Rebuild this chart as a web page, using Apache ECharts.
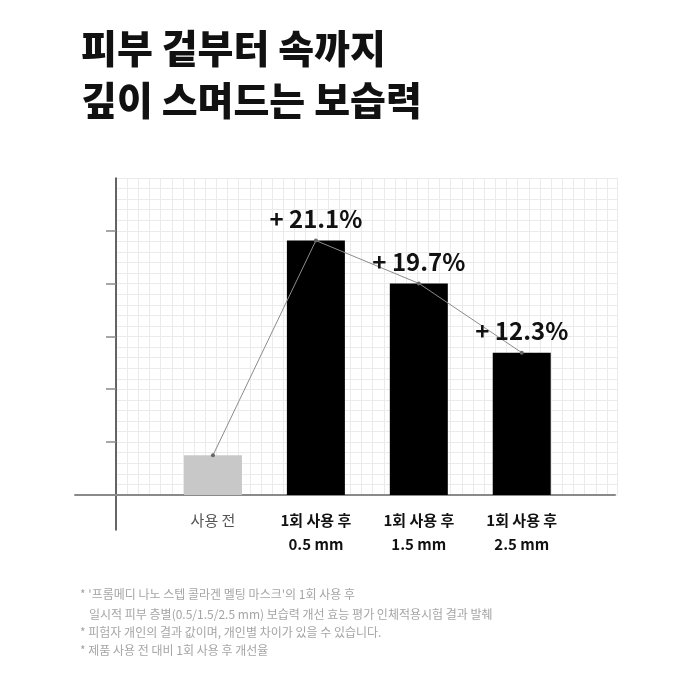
<!DOCTYPE html>
<html>
<head>
<meta charset="utf-8">
<script src="https://cdn.jsdelivr.net/npm/echarts@6/dist/echarts.min.js"></script>
<style>
  html, body { margin: 0; padding: 0; background: #fff; }
  #chart { width: 700px; height: 700px; }
</style>
</head>
<body>
<div id="chart"></div>
<script>
const FONT = '"Noto Sans CJK KR", "Noto Sans", sans-serif';

const categories = ['사용 전', '1회 사용 후\n0.5 mm', '1회 사용 후\n1.5 mm', '1회 사용 후\n2.5 mm'];
const moisture = [7.5, 48.1, 40.0, 26.9];
const improvement = [null, 21.1, 19.7, 12.3];
const barColors = ['#c8c8c8', '#000000', '#000000', '#000000'];
const notes = [
  "* '프롬메디 나노 스텝 콜라겐 멜팅 마스크'의 1회 사용 후",
  '일시적 피부 층별(0.5/1.5/2.5 mm) 보습력 개선 효능 평가 인체적용시험 결과 발췌',
  '* 피험자 개인의 결과 값이며, 개인별 차이가 있을 수 있습니다.',
  '* 제품 사용 전 대비 1회 사용 후 개선율'
];

const chart = echarts.init(document.getElementById('chart'));

// category label: first one plain grey, the rest bold black
function catLabel(value, idx) {
  const style = idx === 0 ? 'a' : 'b';
  return value.split('\n').map(s => '{' + style + '|' + s + '}').join('\n');
}

const noteLineY = [596, 616, 634, 652];
const noteLineX = [80, 89, 80, 80];

const option = {
  backgroundColor: '#fff',
  animation: false,
  title: {
    text: '피부 겉부터 속까지\n깊이 스며드는 보습력',
    left: 76,
    top: 17,
    textStyle: { fontFamily: FONT, fontSize: 39, fontWeight: 900, color: '#111', lineHeight: 52 }
  },
  graphic: notes.map((t, i) => ({
    type: 'text',
    left: noteLineX[i],
    top: noteLineY[i] - 8,
    style: { text: t, font: '12px ' + FONT, fill: '#a5a5a5' }
  })),
  grid: [
    // graph-paper background
    { left: 116, right: 83, top: 178, bottom: 205 },
    // bars
    { left: 161.5, right: 126.8, top: 230.5, bottom: 205 },
    // axis frame (lines running past the plot)
    { left: 75, right: 85, top: 178, bottom: 170 }
  ],
  xAxis: [
    {
      gridIndex: 0, type: 'value', min: 0, max: 44.9, interval: 1,
      axisLine: { show: false }, axisTick: { show: false }, axisLabel: { show: false },
      splitLine: { lineStyle: { color: '#ebebeb', width: 1 } }
    },
    {
      gridIndex: 1, type: 'category', data: categories,
      axisLine: { show: false }, axisTick: { show: false },
      axisLabel: {
        margin: 13,
        formatter: catLabel,
        rich: {
          a: { fontFamily: FONT, fontSize: 15, color: '#555', lineHeight: 24 },
          b: { fontFamily: FONT, fontSize: 15, fontWeight: 'bold', color: '#111', lineHeight: 24 }
        }
      }
    },
    {
      gridIndex: 2, type: 'value', min: -41, max: 499,
      axisLine: { onZero: true, lineStyle: { color: '#8a8a8a', width: 2 } },
      axisTick: { show: false }, axisLabel: { show: false }, splitLine: { show: false }
    }
  ],
  yAxis: [
    {
      gridIndex: 0, type: 'value', min: 0, max: 30, interval: 1,
      axisLine: { show: false }, axisTick: { show: false }, axisLabel: { show: false },
      splitLine: { lineStyle: { color: '#ebebeb', width: 1 } }
    },
    {
      gridIndex: 1, type: 'value', min: 0, max: 50, interval: 10, offset: 45.5,
      axisLine: { show: false },
      axisTick: { show: true, length: 10, lineStyle: { color: '#8a8a8a', width: 1.5 } },
      axisLabel: { show: false }, splitLine: { show: false }
    },
    {
      gridIndex: 2, type: 'value', min: -35, max: 317,
      axisLine: { onZero: true, lineStyle: { color: '#333', width: 1.5 } },
      axisTick: { show: false }, axisLabel: { show: false }, splitLine: { show: false }
    }
  ],
  series: [
    {
      type: 'bar', xAxisIndex: 1, yAxisIndex: 1,
      barWidth: 58,
      data: moisture.map((v, i) => ({ value: v, itemStyle: { color: barColors[i] } }))
    },
    {
      type: 'line', xAxisIndex: 1, yAxisIndex: 1, z: 5,
      data: moisture,
      symbol: 'circle', symbolSize: 4,
      itemStyle: { color: '#666' },
      lineStyle: { color: '#8c8c8c', width: 1 },
      label: {
        show: true, position: 'top', distance: 8,
        fontFamily: FONT, fontSize: 24, fontWeight: 'bold', color: '#111',
        formatter: p => improvement[p.dataIndex] == null ? '' : '+ ' + improvement[p.dataIndex] + '%'
      }
    }
  ]
};

chart.setOption(option);
</script>
</body>
</html>
